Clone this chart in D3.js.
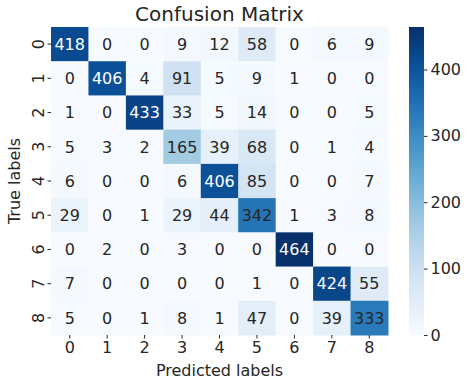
<!DOCTYPE html>
<html>
<head>
<meta charset="utf-8">
<script src="https://cdn.jsdelivr.net/npm/d3@7"></script>
<style>
  body { margin: 0; background: #fff; }
  svg text { font-family: "DejaVu Sans", sans-serif; fill: #262626; }
  .axis path { display: none; }
  .axis line { stroke: #262626; }
</style>
</head>
<body>
<svg id="svg" width="470" height="386"></svg>
<script>
var labels = ['0', '1', '2', '3', '4', '5', '6', '7', '8'];
var row0 = [418, 0, 0, 9, 12, 58, 0, 6, 9];
var row1 = [0, 406, 4, 91, 5, 9, 1, 0, 0];
var row2 = [1, 0, 433, 33, 5, 14, 0, 0, 5];
var row3 = [5, 3, 2, 165, 39, 68, 0, 1, 4];
var row4 = [6, 0, 0, 6, 406, 85, 0, 0, 7];
var row5 = [29, 0, 1, 29, 44, 342, 1, 3, 8];
var row6 = [0, 2, 0, 3, 0, 0, 464, 0, 0];
var row7 = [7, 0, 0, 0, 0, 1, 0, 424, 55];
var row8 = [5, 0, 1, 8, 1, 47, 0, 39, 333];
var matrix = [row0, row1, row2, row3, row4, row5, row6, row7, row8];
var cbarTicks = [0, 100, 200, 300, 400];

var svg = d3.select('#svg');
var m = {top: 27, left: 51};
var width = 337, height = 308;
var vmax = d3.max(matrix, function (r) { return d3.max(r); });

var x = d3.scaleBand().domain(labels).range([0, width]);
var y = d3.scaleBand().domain(labels).range([0, height]);
var color = d3.scaleSequential(d3.interpolateBlues).domain([0, vmax]);

var g = svg.append('g')
  .attr('transform', 'translate(' + m.left + ',' + m.top + ')');

// cells
var cells = [];
matrix.forEach(function (row, i) {
  row.forEach(function (v, j) {
    cells.push({r: labels[i], c: labels[j], v: v});
  });
});

g.selectAll('rect.cell').data(cells).enter().append('rect')
  .attr('class', 'cell')
  .attr('x', function (d) { return x(d.c); })
  .attr('y', function (d) { return y(d.r); })
  .attr('width', x.bandwidth() + 0.5)
  .attr('height', y.bandwidth() + 0.5)
  .attr('fill', function (d) { return color(d.v); });

g.selectAll('text.val').data(cells).enter().append('text')
  .attr('class', 'val')
  .attr('x', function (d) { return x(d.c) + x.bandwidth() / 2; })
  .attr('y', function (d) { return y(d.r) + y.bandwidth() / 2; })
  .attr('text-anchor', 'middle')
  .attr('dy', '0.36em')
  .style('font-size', '16px')
  .style('fill', function (d) {
    var c = d3.rgb(color(d.v));
    var lum = (0.2126 * c.r + 0.7152 * c.g + 0.0722 * c.b) / 255;
    return lum > 0.408 ? '#262626' : '#ffffff';
  })
  .text(function (d) { return d.v; });

// axes
var xAxis = g.append('g').attr('class', 'axis')
  .attr('transform', 'translate(0,' + height + ')')
  .call(d3.axisBottom(x).tickSize(3.5).tickPadding(3));
xAxis.selectAll('text').style('font-size', '16px');

var yAxis = g.append('g').attr('class', 'axis')
  .call(d3.axisLeft(y).tickSize(3.5).tickPadding(3));
yAxis.selectAll('text')
  .style('font-size', '16px')
  .attr('text-anchor', 'middle')
  .attr('x', null).attr('dy', null)
  .attr('transform', 'translate(-13,0) rotate(-90)')
  .attr('dominant-baseline', 'central');

// titles
svg.append('text')
  .attr('x', m.left + width / 2).attr('y', 21)
  .attr('text-anchor', 'middle')
  .style('font-size', '20px')
  .text('Confusion Matrix');

svg.append('text')
  .attr('x', m.left + width / 2).attr('y', 376)
  .attr('text-anchor', 'middle')
  .style('font-size', '16px')
  .text('Predicted labels');

svg.append('text')
  .attr('transform', 'translate(20,' + (m.top + height / 2) + ') rotate(-90)')
  .attr('text-anchor', 'middle')
  .style('font-size', '16px')
  .text('True labels');

// colorbar
var cb = svg.append('g').attr('transform', 'translate(409,' + m.top + ')');
var cbW = 15;
var cy = d3.scaleLinear().domain([0, vmax]).range([height, 0]);
var defs = svg.append('defs');
var grad = defs.append('linearGradient').attr('id', 'cbgrad')
  .attr('x1', 0).attr('y1', 1).attr('x2', 0).attr('y2', 0);
d3.range(0, 1.0001, 0.05).forEach(function (t) {
  grad.append('stop').attr('offset', t).attr('stop-color', d3.interpolateBlues(t));
});
cb.append('rect').attr('width', cbW).attr('height', height).attr('fill', 'url(#cbgrad)');
var cAxis = cb.append('g').attr('class', 'axis')
  .attr('transform', 'translate(' + cbW + ',0)')
  .call(d3.axisRight(cy).tickValues(cbarTicks).tickSize(3.5).tickPadding(3));
cAxis.selectAll('text').style('font-size', '16px');
</script>
</body>
</html>
